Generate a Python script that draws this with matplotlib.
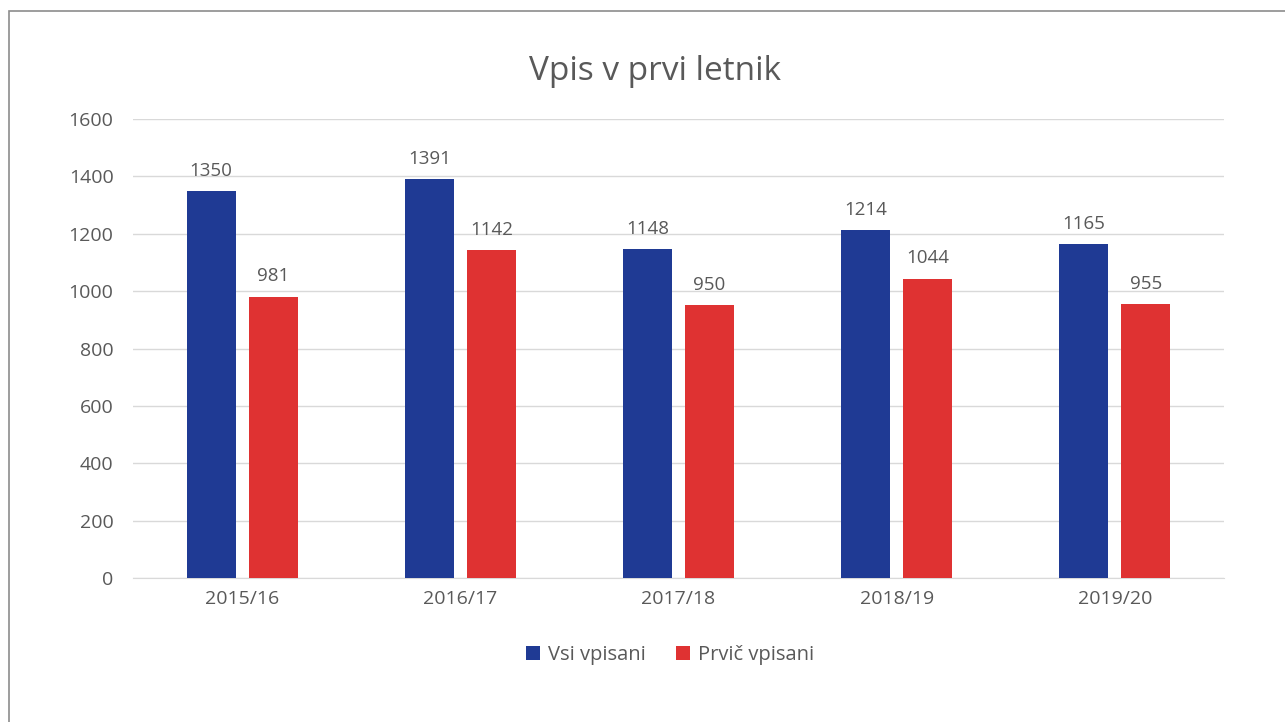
import matplotlib.pyplot as plt
import numpy as np
from matplotlib.patches import Rectangle

plt.rcParams['font.family'] = ['Open Sans', 'DejaVu Sans']

years = ["2015/16", "2016/17", "2017/18", "2018/19", "2019/20"]
vsi_vpisani = [1350, 1391, 1148, 1214, 1165]
prvic_vpisani = [981, 1142, 950, 1044, 955]

BLUE = "#1F3A94"
RED = "#DF3232"
GRAY = "#595959"

W, H = 1285, 722
fig = plt.figure(figsize=(W / 100, H / 100), dpi=100)
# axes placed in pixel terms of the reference
ax = fig.add_axes([133 / W, 1 - 578 / H, (1224 - 133) / W, (578 - 119) / H])

x = np.arange(len(years))
bw = 0.225
off = 0.142
b1 = ax.bar(x - off, vsi_vpisani, bw, color=BLUE, label="Vsi vpisani", zorder=3)
b2 = ax.bar(x + off, prvic_vpisani, bw, color=RED, label="Prvič vpisani", zorder=3)

for bars in (b1, b2):
    for r in bars:
        ax.annotate(f"{int(r.get_height())}", (r.get_x() + r.get_width() / 2, r.get_height()),
                    xytext=(0, 8), textcoords="offset points", ha="center", va="bottom",
                    fontsize=13.5, color=GRAY)

ax.set_xlim(-0.5, len(years) - 0.5)
ax.set_ylim(0, 1600)
ax.set_yticks(range(0, 1601, 200))
ax.set_xticks(x)
ax.set_xticklabels(years)
ax.tick_params(axis="both", length=0, labelsize=14, labelcolor=GRAY)
ax.tick_params(axis="y", pad=14)
ax.tick_params(axis="x", pad=9)
ax.grid(axis="y", color="#D9D9D9", linewidth=1, zorder=0)
for s in ["top", "right", "left"]:
    ax.spines[s].set_visible(False)
ax.spines["bottom"].set_color("#D9D9D9")

fig.text(655 / W, 1 - 72 / H, "Vpis v prvi letnik", ha="center", va="center",
         fontsize=24, color=GRAY)

fig.legend(handles=[b1, b2], loc="center", bbox_to_anchor=(670 / W, 1 - 655 / H),
           ncol=2, frameon=False, fontsize=14.5, labelcolor=GRAY,
           handlelength=0.7, handleheight=0.7, handletextpad=0.4, columnspacing=1.5)

# outer chart border (cut off at right/bottom as in reference)
fig.patches.append(Rectangle((9 / W, -0.05), 1.2, 1 - 11 / H + 0.05, transform=fig.transFigure,
                             fill=False, edgecolor="#8C8C8C", linewidth=1.2))

fig.savefig("out.png", dpi=100)
